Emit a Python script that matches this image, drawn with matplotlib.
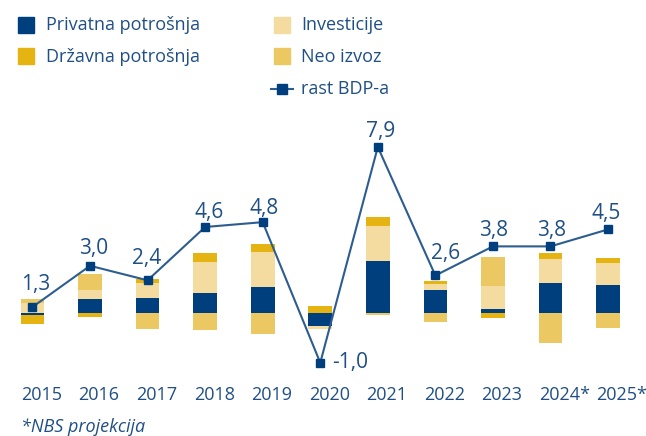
import matplotlib
matplotlib.use("Agg")
import matplotlib.pyplot as plt
from matplotlib.lines import Line2D
import numpy as np

plt.rcParams['font.family'] = ['Open Sans', 'DejaVu Sans']

godine = ["2015", "2016", "2017", "2018", "2019", "2020", "2021", "2022", "2023", "2024*", "2025*"]
privatna = [-0.18, 1.15, 1.23, 1.65, 2.15, -1.1, 4.32, 1.9, 0.29, 2.48, 2.32]
investicije = [0.78, 0.75, 1.22, 2.58, 2.92, -0.28, 2.92, 0.5, 1.94, 2.0, 1.83]
drzavna = [-0.78, -0.33, 0.36, 0.75, 0.69, 0.56, 0.78, 0.28, -0.41, 0.5, 0.42]
neo_izvoz = [0.36, 1.33, -1.32, -1.41, -1.74, 0.0, -0.15, -0.75, 2.44, -2.48, -1.23]
rast_bdp = [1.3, 3.0, 2.4, 4.6, 4.8, -1.0, 7.9, 2.6, 3.8, 3.8, 4.5]
labele = ["1,3", "3,0", "2,4", "4,6", "4,8", "-1,0", "7,9", "2,6", "3,8", "3,8", "4,5"]

c_priv = "#003f7d"
c_drz = "#e6b412"
c_inv = "#f4dca0"
c_neo = "#ecc862"
c_line = "#2d5d90"
c_text = "#1f4f86"

fig = plt.figure(figsize=(6.46, 4.36), dpi=100)
ax = fig.add_axes([0, 56/436, 1, 280/436])
ax2 = ax.twinx()

x = np.arange(len(godine))
w = 0.41
pos = np.zeros(len(godine))
neg = np.zeros(len(godine))
# redosled slaganja: privatna, investicije, drzavna, neto izvoz
for vals, col in [(privatna, c_priv), (investicije, c_inv), (drzavna, c_drz), (neo_izvoz, c_neo)]:
    v = np.array(vals)
    base = np.where(v >= 0, pos, neg)
    ax.bar(x, v, w, bottom=base, color=col, linewidth=0)
    pos = pos + np.where(v >= 0, v, 0)
    neg = neg + np.where(v < 0, v, 0)

ax.set_ylim(-5.6, 17.733)
ax.set_xlim(-0.5647, 10.66)

ax2.plot(x, rast_bdp, color=c_line, linewidth=1.5, marker="s", markersize=6,
         markerfacecolor=c_priv, markeredgecolor=c_priv, zorder=5)
ax2.set_ylim(-1.712, 9.839)

odmaci = [(3.5, 17), (3.5, 11.7), (-1, 16), (3.5, 9), (1.5, 8.3), (12, -5.2),
          (2.5, 10.5), (10, 16), (0.5, 10), (1.5, 10.7), (-2, 10)]
for i in range(len(godine)):
    ha = "left" if rast_bdp[i] < 0 else "center"
    ax2.annotate(labele[i], (x[i], rast_bdp[i]), xytext=odmaci[i], textcoords="offset pixels",
                 ha=ha, va="baseline", fontsize=15, color=c_text)

for a in (ax, ax2):
    for s in a.spines.values():
        s.set_visible(False)
    a.set_yticks([])
ax.set_xticks(x - 0.2)
ax.set_xticklabels(godine, ha="left", fontsize=13, color=c_text)
ax.tick_params(axis="x", length=0, pad=4)

# legenda
def fx(px):
    return px / 646
def fy(py):
    return 1 - py / 436

stavke = [("Privatna potrošnja", c_priv, 46, 30, 26, 25.5),
          ("Državna potrošnja", c_drz, 46, 61.7, 26, 56),
          ("Investicije", c_inv, 301, 30, 281.5, 25.5),
          ("Neo izvoz", c_neo, 301, 61.7, 281.5, 56)]
for txt, col, tx, ty, mx, my in stavke:
    fig.add_artist(Line2D([fx(mx)], [fy(my)], marker="s", markersize=12, color=col,
                          linestyle="none", transform=fig.transFigure))
    fig.text(fx(tx), fy(ty), txt, fontsize=13, color=c_text, va="baseline")
fig.add_artist(Line2D([fx(271), fx(293)], [fy(89.3), fy(89.3)], color=c_line, linewidth=1.5,
                      transform=fig.transFigure))
fig.add_artist(Line2D([fx(282)], [fy(89.3)], marker="s", markersize=6.5, color=c_priv,
                      linestyle="none", transform=fig.transFigure))
fig.text(fx(301), fy(94.3), "rast BDP-a", fontsize=13, color=c_text, va="baseline")

fig.text(fx(21), fy(432), "*NBS projekcija", fontsize=13, color=c_text, style="italic", va="baseline")

fig.savefig("out.png", dpi=100)
